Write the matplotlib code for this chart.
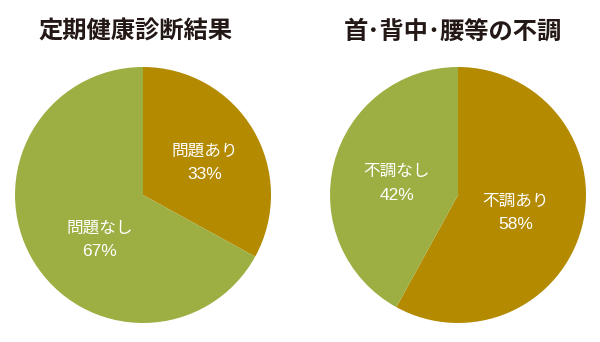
import matplotlib
matplotlib.use("Agg")
import matplotlib.pyplot as plt

plt.rcParams['font.family'] = ['Noto Sans CJK JP', 'DejaVu Sans']

# data
titles = ['定期健康診断結果', '首･背中･腰等の不調']
labels_left = ['問題あり', '問題なし']
values_left = [33, 67]
labels_right = ['不調あり', '不調なし']
values_right = [58, 42]

gold = '#B38A00'
green = '#9DAF42'

fig = plt.figure(figsize=(6, 3.42), dpi=100)

# label positions inside the pie (data coords, radius 1)
pos_left = [(0.48, 0.25), (-0.34, -0.35)]
pos_right = [(0.45, -0.14), (-0.48, 0.09)]

panels = [
    ([0.025, 0.0556, 0.4267, 0.7485], labels_left, values_left, pos_left, 135 / 600),
    ([0.55, 0.0556, 0.4267, 0.7485], labels_right, values_right, pos_right, 453 / 600),
]

for i, (rect, labels, values, pos, tx) in enumerate(panels):
    ax = fig.add_axes(rect)
    ax.pie(values, colors=[gold, green], startangle=90, counterclock=False,
           radius=1, wedgeprops=dict(linewidth=0))
    for lab, v, (x, y) in zip(labels, values, pos):
        ax.annotate(lab, (x, y), xytext=(0, 8.5), textcoords='offset points',
                    color='white', ha='center', va='center', fontsize=12)
        ax.annotate(f'{v}%', (x, y), xytext=(0, -8.5), textcoords='offset points',
                    color='white', ha='center', va='center', fontsize=12.5,
                    family=['Liberation Sans', 'Noto Sans CJK JP'])
    ax.set_xlim(-1, 1)
    ax.set_ylim(-1, 1)
    ax.set_aspect('equal')
    ax.axis('off')
    fig.text(tx, 1 - 32 / 342, titles[i], ha='center', va='center', fontsize=17.5,
             fontweight='bold', color='#231815')

fig.savefig('out.png', dpi=100)
